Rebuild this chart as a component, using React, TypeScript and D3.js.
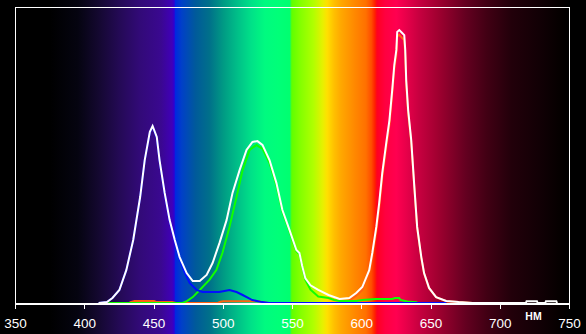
import React from "react";
import * as d3 from "d3";

// wavelength ticks (nm)
const TICKS = [350, 400, 450, 500, 550, 600, 650, 700, 750];
const UNIT_LABEL = "НМ";

// spectrum background colour stops [nm, colour]
const SPECTRUM_STOPS: [number, string][] = [
  [350, "#000000"], [375, "#000000"], [395, "#050410"], [410, "#140830"],
  [425, "#240a55"], [440, "#320a78"], [455, "#3a0890"], [463, "#4000b8"],
  [464.5, "#3000d0"], [465.5, "#0028e0"], [470, "#0040c8"], [480, "#005a9a"],
  [490, "#00708a"], [500, "#009a84"], [510, "#00be88"], [520, "#00e088"],
  [530, "#00fa80"], [540, "#00ff78"], [548, "#00ff70"], [549.5, "#60ff00"],
  [555, "#80ff00"], [565, "#b0ff00"], [572, "#e8f000"], [575, "#ffe000"],
  [580, "#ffc000"], [585, "#ffa800"], [595, "#ff8800"], [603, "#ff7000"],
  [607, "#ff4c00"], [609.5, "#ff2000"], [611, "#ff0020"], [617, "#ff0040"],
  [625, "#ff0050"], [632, "#e8004a"], [641, "#c80040"], [655, "#a00030"],
  [675, "#640020"], [690, "#420014"], [708, "#22000a"], [728, "#120005"],
  [742, "#060000"], [750, "#000000"],
];

// total spectrum [nm, relative value]
const TOTAL: [number, number][] = [
  [410, 0], [416, 0.3], [420, 1.7], [425, 4.4], [430, 11.1], [435, 21.3], [440, 35.8],
  [443.3, 48.3], [447, 57.8], [449, 59.8], [452, 56.1], [454, 48.3], [457.7, 37.2],
  [461.3, 28.0], [465, 21.3], [468.5, 15.5], [473.6, 10.1], [478, 7.4], [483, 7.4],
  [488, 9.5], [492.3, 13.5], [497.3, 20.3], [502.4, 28.0], [506.7, 37.2], [511.8, 44.9],
  [516.8, 51.7], [521.1, 54.4], [524.7, 54.7], [528.3, 53.4], [533.4, 48.3], [538.4, 40.5],
  [542.7, 31.4], [547.8, 24.7], [552.8, 17.9], [555, 16.9], [557, 12.5], [559.3, 8.3],
  [563, 6.0], [568.6, 4.4], [576, 2.7], [584, 1.35], [591, 1.7], [596, 3.4], [600.4, 5.4],
  [605.4, 11.1], [607.6, 16.9], [610.5, 25.7], [612.6, 33.8], [614.8, 43.9], [617.7, 54.1],
  [620, 61.8], [622, 72], [623.5, 80.4], [625, 85.5], [625.6, 91.6], [627.1, 92.2],
  [629.2, 91.2], [630.7, 90.5], [631.4, 85.5], [632.1, 75.3], [633.5, 65.2], [635.7, 55.1],
  [637.8, 40.5], [640, 25.7], [643, 15.5], [645, 10.1], [648.6, 5.1], [653.7, 2.0],
  [661, 0.7], [670, 0.3], [680, 0], [718.5, 0], [719, 0.6], [726.5, 0.6], [727, 0],
  [732.5, 0], [733, 0.6], [740.5, 0.6], [741, 0],
];

// blue channel
const BLUE: [number, number][] = [
  [410, 0], [416, 0.3], [420, 1.7], [425, 4.4], [430, 11.1], [435, 21.3], [440, 35.8],
  [443.3, 48.3], [447, 57.6], [449, 59.6], [452, 55.9], [454, 48.1], [457.7, 37],
  [461.3, 27.8], [465, 21], [468.5, 15], [472, 10.5], [475.7, 6.8], [480.8, 4.4],
  [485, 3.7], [497, 3.7], [504.5, 4.4], [509.6, 3.7], [514, 2.7], [521, 1.0], [528, 0.3],
  [533, 0], [661, 0],
];

// green channel
const GREEN: [number, number][] = [
  [417, 0], [470.7, 0], [474, 0.7], [478, 2.0], [483, 4.4], [490, 7.8], [495, 11.1],
  [499.4, 16.9], [504.5, 25.7], [509.6, 35.8], [514, 44.9], [519, 51.7], [524, 53.4],
  [526, 52.7], [528.3, 52.2], [533.4, 47.3], [538.4, 39.7], [542.7, 30.8], [547.8, 24.2],
  [552.8, 17.5], [555, 16.5], [557, 12.2], [559.3, 7.8], [563, 4.5], [568.6, 2.2],
  [576, 1.7], [580, 1.0], [584, 0.7], [596, 0.7], [600.4, 1.0], [610, 1.35], [622, 1.35],
  [624, 1.7], [627, 1.7], [628, 1.0], [633, 0.5], [639.5, 0.3], [640, 0],
];

// red channel
const RED: [number, number][] = [
  [417, 0], [432, 0], [433, 0.3], [436, 0.7], [450, 0.7], [452, 0.3], [463, 0.3],
  [466, 0], [496, 0], [498, 0.4], [500, 0.6], [526, 0.6], [528, 0.3], [532, 0],
  [584, 0], [590, 0.5], [596, 2.5], [600.4, 4.4], [605.4, 10.3], [607.6, 15.8],
  [610.5, 24.3], [612.6, 32.4], [614.8, 42.5], [617.7, 52.7], [620, 60.4], [622, 70.6],
  [623.5, 79], [625, 84], [625.6, 90], [627.1, 90.6], [629.2, 89.5], [630.7, 88.8],
  [631.4, 84], [632.1, 74], [633.5, 64], [635.7, 54.5], [637.8, 40], [640, 25.4],
  [643, 15.2], [645, 10], [648.6, 5], [653.7, 2], [661, 0.6], [670, 0.3], [680, 0],
];

const W = 586;
const H = 334;

export default function App() {
  const x = d3.scaleLinear().domain([350, 750]).range([15.5, 569.5]);
  const y = d3.scaleLinear().domain([0, 100]).range([303, 7]);
  const line = d3
    .line<[number, number]>()
    .x((d) => x(d[0]))
    .y((d) => y(d[1]))
    .curve(d3.curveLinear);

  const x0 = x(350);
  const x1 = x(750);
  const px = (v: number) => Math.round(v - 0.5) + 0.5;

  return (
    <svg
      width={W}
      height={H}
      style={{ position: "absolute", left: 0, top: 0, display: "block", background: "#000" }}
    >
      <defs>
        <linearGradient id="spec" gradientUnits="userSpaceOnUse" x1={x0} x2={x1} y1={0} y2={0}>
          {SPECTRUM_STOPS.map(([nm, c], i) => (
            <stop key={i} offset={(nm - 350) / 400} stopColor={c} />
          ))}
        </linearGradient>
      </defs>
      <rect x={0} y={0} width={W} height={H} fill="#000" />
      <rect x={x0} y={0} width={x1 - x0} height={H} fill="url(#spec)" />

      {/* frame */}
      <line x1={px(x0)} x2={px(x0)} y1={7} y2={309} stroke="#fff" strokeWidth={1} />
      <line x1={px(x1)} x2={px(x1)} y1={7} y2={309} stroke="#fff" strokeWidth={1} />
      <line x1={px(x0)} x2={px(x1)} y1={7.5} y2={7.5} stroke="#fff" strokeWidth={1} />

      {TICKS.map((t) => (
        <g key={t}>
          <line x1={px(x(t))} x2={px(x(t))} y1={305} y2={309} stroke="#fff" strokeWidth={1} />
          <text
            x={x(t)}
            y={328}
            fill="#fff"
            fontFamily="'Liberation Sans', Arial, sans-serif"
            fontSize={13.5}
            textAnchor="middle"
          >
            {t}
          </text>
        </g>
      ))}
      <text
        x={533.5}
        y={320}
        fill="#fff"
        fontFamily="'Liberation Sans', Arial, sans-serif"
        fontSize={10.5}
        fontWeight="bold"
        textAnchor="middle"
      >
        {UNIT_LABEL}
      </text>

      <path d={line(RED) || ""} fill="none" stroke="#ff6010" strokeWidth={2} />
      <path d={line(GREEN) || ""} fill="none" stroke="#10ff00" strokeWidth={2} />
      <path d={line(BLUE) || ""} fill="none" stroke="#0010ff" strokeWidth={2} />
      <path d={line(TOTAL) || ""} fill="none" stroke="#ffffff" strokeWidth={2} />
      <line x1={px(x0)} x2={px(x1) + 0.5} y1={304} y2={304} stroke="#fff" strokeWidth={2} />
    </svg>
  );
}
